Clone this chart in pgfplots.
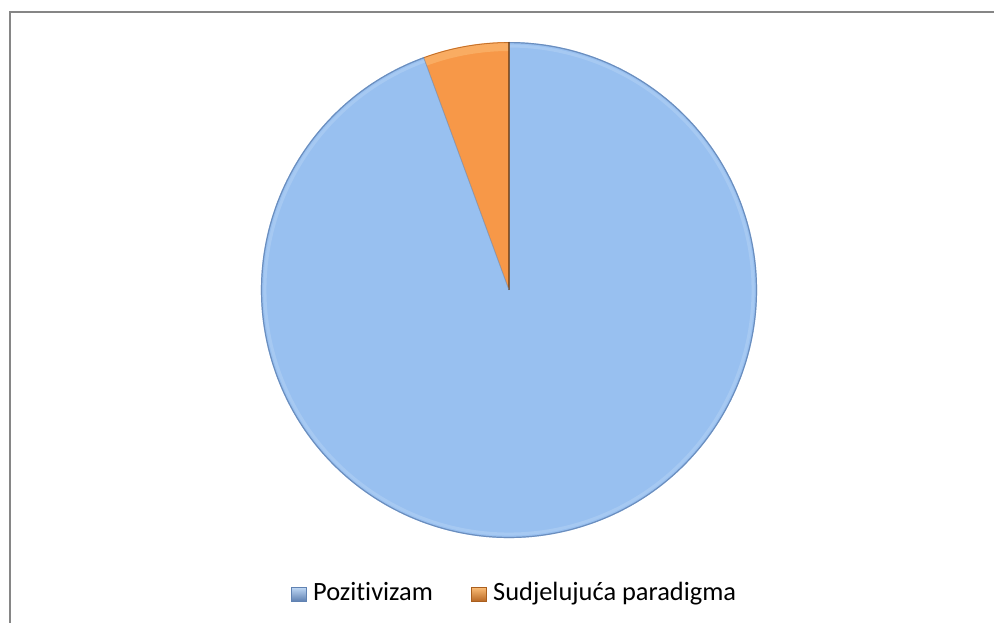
\documentclass[border=0pt]{standalone}
\usepackage{pgfplots}
\pgfplotsset{compat=1.18}
\usepackage{fontspec}
\setmainfont{Carlito}[Ligatures=NoCommon]
\definecolor{pieblue}{RGB}{152,192,240}
\definecolor{pieblueedge}{RGB}{96,130,178}
\definecolor{pieorange}{RGB}{247,152,72}
\definecolor{pieorangeL}{RGB}{252,190,120}
\definecolor{pieorangeedge}{RGB}{170,95,30}
\definecolor{framegray}{RGB}{134,134,134}
\def\valA{94.4}
\def\valB{5.6}
\begin{document}
\begin{tikzpicture}
\useasboundingbox (0,0) rectangle (994pt,622pt);
\begin{axis}[
  at={(0,0)}, anchor=origin,
  scale only axis, width=994pt, height=622pt,
  xmin=0, xmax=994, ymin=0, ymax=622,
  hide axis, clip=false]
\pgfmathsetmacro\angB{360*\valB/(\valA+\valB)}
\pgfmathsetmacro\endB{90+\angB}
% frame
\draw[framegray, line width=1.6pt] (axis cs:10,-5) -- (axis cs:10,610) -- (axis cs:1000,610);
% blue slice
\fill[pieblue] (axis cs:509,332) -- ++(\endB:248) arc[start angle=\endB, end angle=450, radius=248] -- cycle;
% rim shading on blue
\draw[pieblueedge, line width=1.2pt, opacity=0.8] (axis cs:509,332) ++(\endB:247.4) arc[start angle=\endB, end angle=450, radius=247.4];
\draw[pieblue!80!white, line width=3pt, opacity=0.7] (axis cs:509,332) ++(\endB:244) arc[start angle=\endB, end angle=450, radius=244];
% orange slice
\fill[pieorange] (axis cs:509,332) -- ++(90:248) arc[start angle=90, end angle=\endB, radius=248] -- cycle;
\begin{scope}
\clip (axis cs:509,332) -- ++(90:248) arc[start angle=90, end angle=\endB, radius=248] -- cycle;
\draw[pieorangeL, line width=8pt, opacity=0.55] (axis cs:509,332) ++(90:243) arc[start angle=90, end angle=\endB, radius=243];
\end{scope}
\draw[pieorangeedge, line width=0.8pt, opacity=0.7] (axis cs:509,332) ++(90:247.4) arc[start angle=90, end angle=\endB, radius=247.4];
% slice separators
\draw[pieorangeedge!60!black, line width=1.2pt, opacity=0.7] (axis cs:509,332) -- ++(90:248);
\draw[pieblueedge, line width=0.8pt, opacity=0.6] (axis cs:509,332) -- ++(\endB:248);
% legend
\shade[top color=pieblue!60!white, bottom color=pieblueedge, draw=pieblueedge, line width=0.4pt] (axis cs:291,21) rectangle (axis cs:306,35);
\node[anchor=base west, inner sep=0pt, font=\fontsize{26.4}{30}\selectfont] at (axis cs:313,21.3) {Pozitivizam};
\shade[top color=pieorangeL, bottom color=pieorangeedge!80!pieorange, draw=pieorangeedge, line width=0.4pt] (axis cs:471,21) rectangle (axis cs:486,35);
\node[anchor=base west, inner sep=0pt, font=\fontsize{26.4}{30}\selectfont] at (axis cs:493,21.3) {Sudjelujuća paradigma};
\end{axis}
\end{tikzpicture}
\end{document}
